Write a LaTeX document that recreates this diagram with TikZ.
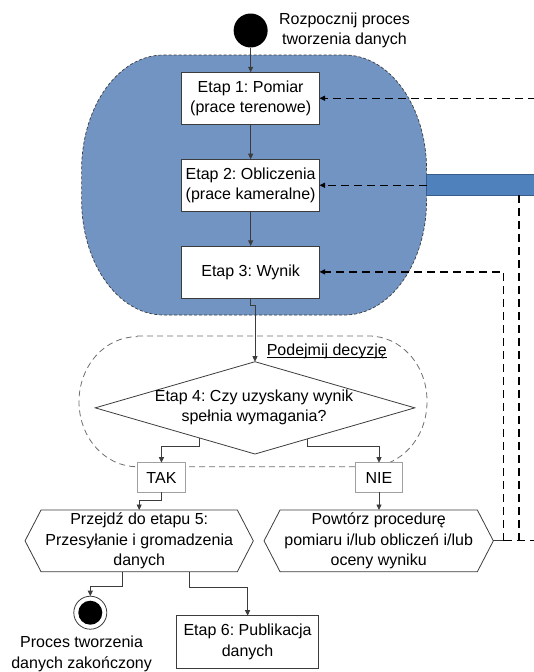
\documentclass[tikz,border=0pt]{standalone}
\usepackage{fontspec}
\setmainfont{Liberation Sans}
\usetikzlibrary{arrows.meta,calc,shapes.geometric}
\definecolor{blobfill}{RGB}{114,148,195}
\definecolor{barfill}{RGB}{79,129,189}
\definecolor{bardraw}{RGB}{56,93,138}
\definecolor{edge}{RGB}{60,60,60}
\definecolor{softedge}{RGB}{160,160,160}
\definecolor{regionedge}{RGB}{110,110,110}
\frenchspacing

\begin{document}
\begin{tikzpicture}[x=1pt,y=-1pt,
  font=\fontsize{16}{20.5}\selectfont,
  every node/.style={align=center, inner sep=0pt, outer sep=0pt},
  tip/.style={-{Triangle[length=5.5pt,width=5pt]}},
  conn/.style={draw=edge, line width=0.8pt},
  stepbox/.style={draw=edge, fill=white, line width=0.8pt, minimum width=137.7pt, minimum height=52pt},
  answer/.style={draw=softedge, fill=white, line width=0.8pt, minimum width=47.5pt, minimum height=29.6pt},
  hexline/.style={draw=edge, line width=0.8pt},
  feedback/.style={draw=black, line width=1.2pt, dash pattern=on 8pt off 5pt},
  region/.style={draw=regionedge, line width=0.8pt, dash pattern=on 6pt off 4pt},
]
\useasboundingbox (0,0) rectangle (533,672);

% measurement / computation area
\path[fill=blobfill, draw=edge, line width=0.7pt, dash pattern=on 3pt off 2pt]
  (163.6,55) -- (344.6,55) arc[start angle=90, end angle=0, x radius=82pt, y radius=115pt]
  -- (426.6,200) arc[start angle=0, end angle=-90, x radius=82pt, y radius=115pt]
  -- (163.6,315) arc[start angle=270, end angle=180, x radius=82pt, y radius=115pt]
  -- (81.6,170) arc[start angle=180, end angle=90, x radius=82pt, y radius=115pt] -- cycle;

% decision area
\path[region]
  (137,336) -- (369,336) arc[start angle=90, end angle=0, x radius=58pt, y radius=65pt]
  -- (427,401.7) arc[start angle=0, end angle=-90, x radius=58pt, y radius=65pt]
  -- (137,466.7) arc[start angle=270, end angle=180, x radius=58pt, y radius=65pt]
  -- (79,401.7) arc[start angle=180, end angle=90, x radius=58pt, y radius=65pt] -- cycle;

% start
\node[circle, fill=black, minimum size=34pt] (start) at (250.65,30.5) {};
\node (startlabel) at (344.5,30.5) {Rozpocznij proces\\tworzenia danych};

% feedback bar
\node[draw=bardraw, fill=barfill, line width=0.6pt, minimum width=115pt, minimum height=20.7pt, anchor=west] (bar) at (426.6,184.65) {};

% stages
\node[stepbox] (e1) at (250.65,98.3) {Etap 1: Pomiar\\(prace terenowe)};
\node[stepbox] (e2) at (250.65,185.2) {Etap 2: Obliczenia\\(prace kameralne)};
\node[stepbox] (e3) at (250.65,271.9) {Etap 3: Wynik};

\draw[conn,tip] (start.south) -- (e1.north);
\draw[conn,tip] (e1.south) -- (e2.north);
\draw[conn,tip] (e2.south) -- (e3.north);

% decision
\node[diamond, draw=edge, line width=0.8pt, minimum width=319.5pt, minimum height=92.3pt] (dec) at (255,407.85) {};
\node (dectext) at (254,407.5) {Etap 4: Czy uzyskany wynik\\spełnia wymagania?};
\node[anchor=base west] (decide) at (266.8,355.3) {Podejmij decyzję};
\draw[line width=0.7pt] ($(decide.base west)+(0,1.8)$) -- ($(decide.base east)+(0,1.8)$);

\draw[conn,tip] (e3.south) -- ++(0,7.3) -| (dec.north);

\node[answer] (tak) at (161.45,477.5) {TAK};
\node[answer] (nie) at (379,477.5) {NIE};

\coordinate (decL) at ($(dec.west)!0.655!(dec.south)$);
\coordinate (decR) at ($(dec.south)!0.325!(dec.east)$);
\draw[conn,tip] (decL) -- ++(0,8) -| (tak.north);
\draw[conn,tip] (decR) -- ++(0,7) -| (nie.north);

% outcomes
\node[minimum width=228.3pt, minimum height=61.7pt] (h5) at (139.2,540.85) {Przejdź do etapu 5:\\Przesyłanie i gromadzenia\\danych};
\draw[hexline] ($(h5.north west)+(16,0)$) -- ($(h5.north east)+(-16,0)$) -- (h5.east)
  -- ($(h5.south east)+(-16,0)$) -- ($(h5.south west)+(16,0)$) -- (h5.west) -- cycle;

\node[minimum width=229.3pt, minimum height=61.7pt] (h6) at (378.7,540.85) {Powtórz procedurę\\pomiaru i/lub obliczeń i/lub\\oceny wyniku};
\draw[hexline] ($(h6.north west)+(16,0)$) -- ($(h6.north east)+(-16,0)$) -- (h6.east)
  -- ($(h6.south east)+(-16,0)$) -- ($(h6.south west)+(16,0)$) -- (h6.west) -- cycle;

\draw[conn,tip] (tak.south) -- ++(0,7.7) -| (h5.north);
\draw[conn,tip] (nie.south) -- (nie.south |- h6.north);

% end and publication
\node[circle, draw=edge, line width=0.8pt, fill=white, minimum size=33pt] (endo) at (90.3,612.7) {};
\node[circle, fill=black, minimum size=24pt] (endi) at (endo) {};
\node (endlabel) at (81.6,654) {Proces tworzenia\\danych zakończony};
\node[stepbox, minimum width=141.8pt, minimum height=52.6pt] (e6) at (247.6,642) {Etap 6: Publikacja\\danych};

\draw[conn,tip] ($(h5.south)+(-16.4,0)$) -- ++(0,14.3) -| (endo.north);
\draw[conn,tip] ($(h5.south)+(49.8,0)$) -- ++(0,15.3) -| (e6.north);

% feedback loops
\coordinate (rightTop) at (536,98.3);
\draw[feedback,tip] (rightTop) -- (e1.east);
\draw[feedback,tip] (bar.west |- e2.east) -- (e2.east);

\coordinate (jn) at ($(h6.east)+(10.2,0)$);
\draw[conn] (h6.east) -- (jn);
\draw[feedback,tip] (jn) |- (e3.east);
\draw[feedback] (jn) -- (jn -| rightTop);
\coordinate (drop) at ($(bar.south west)+(92.4,0)$);
\draw[feedback] (drop) -- (drop |- jn);
\end{tikzpicture}
\end{document}
